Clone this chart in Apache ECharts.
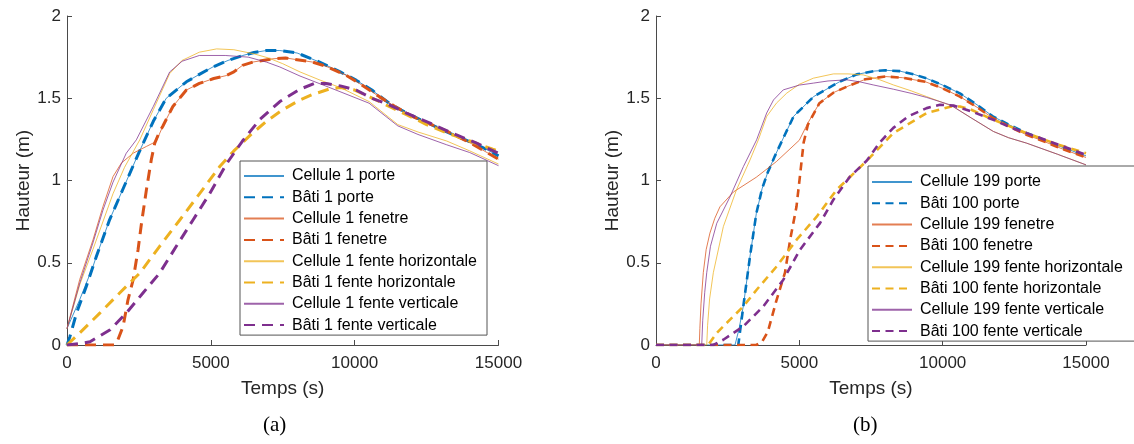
<!DOCTYPE html>
<html><head><meta charset="utf-8">
<script src="https://cdn.jsdelivr.net/npm/echarts@6/dist/echarts.min.js"></script>
<style>html,body{margin:0;padding:0;background:#fff}#c{width:1134px;height:444px}</style>
</head><body><div id="c"></div>
<script>
const xTicks = [0, 5000, 10000, 15000];
const yTicks = [0, 0.5, 1, 1.5, 2];
const namesA = ['Cellule 1 porte','Bâti 1 porte','Cellule 1 fenetre','Bâti 1 fenetre','Cellule 1 fente horizontale','Bâti 1 fente horizontale','Cellule 1 fente verticale','Bâti 1 fente verticale'];
const namesB = ['Cellule 199 porte','Bâti 100 porte','Cellule 199 fenetre','Bâti 100 fenetre','Cellule 199 fente horizontale','Bâti 100 fente horizontale','Cellule 199 fente verticale','Bâti 100 fente verticale'];
const panelLabels = ['(a)', '(b)'];

// ---- (a) ----
const cellPorteA = [[0,0.1],[440,0.275],[905,0.478],[1020,0.538],[1480,0.761],[1950,0.95],[2500,1.17],[3000,1.36],[3450,1.5],[4150,1.6],[4600,1.645],[5070,1.69],[5600,1.73],[6110,1.76],[6500,1.778],[6930,1.79],[7400,1.79],[8000,1.775],[8780,1.72],[9500,1.66],[10050,1.61],[10600,1.55],[11200,1.47],[11600,1.43],[12100,1.385],[12600,1.345],[13200,1.295],[13750,1.255],[14400,1.205],[15000,1.15]];
const batiPorteA = [[0,0],[100,0.05],[330,0.194],[670,0.356],[1020,0.538],[1480,0.761],[1950,0.95],[2500,1.17],[3000,1.36],[3450,1.5],[4150,1.6],[4600,1.645],[5070,1.69],[5600,1.73],[6110,1.76],[6500,1.778],[6930,1.79],[7400,1.79],[8000,1.775],[8780,1.72],[9500,1.66],[10050,1.61],[10600,1.55],[11200,1.47],[11600,1.43],[12100,1.385],[12600,1.345],[13200,1.295],[13750,1.255],[14400,1.205],[15000,1.15]];
const cellFenA = [[0,0.1],[440,0.397],[905,0.64],[1250,0.842],[1600,1.024],[1890,1.106],[2300,1.166],[2760,1.207],[3100,1.237],[3330,1.33],[3680,1.45],[4150,1.55],[4600,1.59],[5100,1.62],[5540,1.638],[5800,1.66],[6100,1.70],[6460,1.72],[7160,1.74],[7600,1.745],[8530,1.72],[9000,1.695],[9700,1.64],[10300,1.575],[10850,1.51],[11400,1.45],[12000,1.39],[12600,1.345],[13200,1.30],[14000,1.23],[15000,1.13]];
const batiFenA = [[0,0],[1650,0],[1770,0.032],[1950,0.113],[2120,0.275],[2300,0.397],[2470,0.579],[2590,0.741],[2760,0.943],[2930,1.126],[3050,1.227],[3200,1.29],[3330,1.33],[3680,1.45],[4150,1.55],[4600,1.59],[5100,1.62],[5540,1.638],[5800,1.66],[6100,1.70],[6460,1.72],[7160,1.74],[7600,1.745],[8530,1.72],[9000,1.695],[9700,1.64],[10300,1.575],[10850,1.51],[11400,1.45],[12000,1.39],[12600,1.345],[13200,1.30],[14000,1.23],[15000,1.13]];
const cellHorA = [[0,0.1],[450,0.37],[900,0.58],[1600,0.92],[2000,1.08],[2530,1.247],[3000,1.43],[3570,1.65],[4000,1.73],[4600,1.78],[5200,1.80],[5800,1.795],[6500,1.77],[7000,1.745],[7500,1.71],[8100,1.66],[8800,1.61],[9500,1.565],[10500,1.48],[11500,1.34],[12200,1.295],[13200,1.24],[14000,1.18],[15000,1.1]];
const batiHorA = [[0,0],[440,0.073],[1140,0.194],[1830,0.316],[2530,0.437],[3220,0.6],[3920,0.76],[4610,0.92],[5310,1.085],[5800,1.18],[6400,1.28],[6930,1.36],[7500,1.43],[8100,1.49],[8500,1.52],[9100,1.555],[9500,1.565],[10000,1.55],[10500,1.51],[11200,1.45],[11800,1.40],[12500,1.34],[13200,1.29],[14000,1.24],[14800,1.19],[15000,1.18]];
const cellVerA = [[0,0.1],[450,0.38],[900,0.62],[1250,0.82],[1600,0.99],[2060,1.166],[2410,1.247],[3000,1.45],[3570,1.66],[4000,1.725],[4600,1.76],[5500,1.76],[6300,1.75],[6930,1.72],[7400,1.69],[8100,1.635],[9100,1.567],[10500,1.47],[11500,1.332],[12200,1.28],[13200,1.217],[14000,1.17],[15000,1.09]];
const batiVerA = [[0,0],[500,0.01],[800,0.02],[1500,0.093],[2060,0.194],[2640,0.316],[3220,0.437],[3800,0.6],[4380,0.76],[4960,0.92],[5540,1.1],[6100,1.24],[6700,1.37],[7400,1.48],[8100,1.555],[8600,1.59],[9000,1.59],[9500,1.575],[10050,1.55],[10600,1.5],[11200,1.46],[11800,1.41],[12600,1.35],[13500,1.28],[14200,1.23],[15000,1.165]];

// ---- (b) ----
const cellPorteB = [[0,0],[2756,0],[2900,0.1],[3050,0.24],[3280,0.54],[3500,0.80],[3700,0.95],[3900,1.05],[4150,1.15],[4500,1.28],[4800,1.39],[5500,1.51],[6400,1.60],[7000,1.645],[7600,1.665],[8000,1.67],[8500,1.665],[9000,1.645],[9450,1.62],[10000,1.58],[10600,1.53],[11200,1.46],[11750,1.39],[12300,1.34],[12900,1.29],[13500,1.25],[14200,1.2],[15000,1.15]];
const batiPorteB = [[0,0],[2870,0],[3050,0.24],[3280,0.54],[3500,0.80],[3700,0.95],[3900,1.05],[4150,1.15],[4500,1.28],[4800,1.39],[5500,1.51],[6400,1.60],[7000,1.645],[7600,1.665],[8000,1.67],[8500,1.665],[9000,1.645],[9450,1.62],[10000,1.58],[10600,1.53],[11200,1.46],[11750,1.39],[12300,1.34],[12900,1.29],[13500,1.25],[14200,1.2],[15000,1.15]];
const cellFenB = [[0,0],[1510,0],[1530,0.1],[1570,0.25],[1650,0.44],[1750,0.58],[1880,0.68],[2050,0.77],[2230,0.84],[2700,0.93],[3500,1.02],[4200,1.115],[5000,1.245],[5300,1.35],[5700,1.47],[6200,1.535],[6650,1.57],[7300,1.615],[8000,1.632],[8600,1.625],[9400,1.60],[10000,1.56],[10600,1.51],[11200,1.445],[11750,1.38],[12300,1.33],[12900,1.28],[13500,1.24],[14200,1.19],[15000,1.14]];
const batiFenB = [[0,0],[3500,0],[3700,0.02],[3900,0.08],[4200,0.27],[4500,0.44],[4680,0.64],[4900,0.84],[5030,1.04],[5150,1.23],[5300,1.34],[5700,1.47],[6200,1.535],[6650,1.57],[7300,1.615],[8000,1.632],[8600,1.625],[9400,1.60],[10000,1.56],[10600,1.51],[11200,1.445],[11750,1.38],[12300,1.33],[12900,1.28],[13500,1.24],[14200,1.19],[15000,1.14]];
const cellHorB = [[0,0],[1770,0],[1800,0.12],[1870,0.28],[2000,0.44],[2350,0.72],[2800,0.94],[3280,1.125],[3570,1.247],[3860,1.389],[4200,1.47],[4560,1.531],[5000,1.585],[5490,1.622],[6190,1.648],[6700,1.648],[7230,1.642],[7810,1.612],[8280,1.581],[8900,1.545],[9440,1.51],[10370,1.45],[11000,1.38],[11770,1.298],[12300,1.26],[12930,1.227],[14000,1.16],[15000,1.095]];
const batiHorB = [[0,0],[1820,0],[2117,0.073],[2581,0.154],[3047,0.235],[3512,0.336],[4210,0.478],[4907,0.64],[5605,0.78],[6303,0.944],[7000,1.06],[7465,1.14],[8279,1.288],[9442,1.41],[10300,1.45],[10600,1.45],[11000,1.43],[11767,1.369],[12930,1.288],[14000,1.22],[15000,1.166]];
const cellVerB = [[0,0],[1595,0],[1630,0.15],[1700,0.32],[1770,0.44],[1900,0.6],[2120,0.74],[2580,0.90],[3050,1.085],[3510,1.247],[3860,1.41],[4100,1.49],[4440,1.551],[5000,1.58],[5490,1.592],[6000,1.605],[6650,1.612],[7100,1.6],[7580,1.581],[8280,1.555],[8900,1.53],[9440,1.505],[10260,1.46],[11000,1.38],[11770,1.298],[12300,1.26],[12930,1.227],[14000,1.16],[15000,1.095]];
const batiVerB = [[0,0],[2000,0],[2349,0.032],[3047,0.113],[3745,0.235],[4442,0.397],[5023,0.579],[5721,0.741],[6186,0.883],[6767,1.024],[7349,1.12],[7800,1.23],[8279,1.32],[8800,1.39],[9442,1.44],[9907,1.46],[10400,1.455],[11000,1.42],[11767,1.369],[12400,1.32],[12930,1.288],[14000,1.22],[15000,1.156]];

const colors = ['#0072BD', '#D95319', '#EDB120', '#7E2F8E'];
const dataA = [cellPorteA, batiPorteA, cellFenA, batiFenA, cellHorA, batiHorA, cellVerA, batiVerA];
const dataB = [cellPorteB, batiPorteB, cellFenB, batiFenB, cellHorB, batiHorB, cellVerB, batiVerB];

const FONT = 'Liberation Sans, Arial, Helvetica, sans-serif';
const AX = '#4a4a4a';

function mkSeries(names, datas, gi, dash, dashW) {
  return names.map((n, i) => {
    const dashed = i % 2 === 1;
    const c = colors[Math.floor(i / 2)];
    return {
      type: 'line', name: n, xAxisIndex: gi, yAxisIndex: gi,
      data: datas[i], symbol: 'none', showSymbol: false,
      smooth: false,
      color: c,
      lineStyle: dashed
        ? { width: dashW, type: dash, color: c, cap: 'butt', join: 'round' }
        : { width: 1, type: 'solid', color: c, opacity: 0.75, join: 'round' },
      emphasis: { disabled: true },
      animation: false
    };
  });
}

function xAxis(gi) {
  return {
    gridIndex: gi, type: 'value', min: xTicks[0], max: xTicks[xTicks.length - 1], interval: xTicks[1] - xTicks[0],
    name: 'Temps (s)', nameLocation: 'middle', nameGap: 34,
    nameTextStyle: { fontFamily: FONT, fontSize: 19, color: '#262626' },
    axisLine: { show: true, lineStyle: { color: AX, width: 1 } },
    axisTick: { show: true, inside: true, length: 5, lineStyle: { color: AX } },
    axisLabel: { fontFamily: FONT, fontSize: 17, color: '#262626', margin: 10, formatter: v => String(v) },
    splitLine: { show: false }
  };
}
function yAxis(gi) {
  return {
    gridIndex: gi, type: 'value', min: yTicks[0], max: yTicks[yTicks.length - 1], interval: yTicks[1] - yTicks[0],
    name: 'Hauteur (m)', nameLocation: 'middle', nameGap: 33, nameRotate: 90,
    nameTextStyle: { fontFamily: FONT, fontSize: 19, color: '#262626' },
    axisLine: { show: true, lineStyle: { color: AX, width: 1 } },
    axisTick: { show: true, inside: true, length: 5, lineStyle: { color: AX } },
    axisLabel: { fontFamily: FONT, fontSize: 17, color: '#262626', margin: 6, formatter: v => String(v) },
    splitLine: { show: false }
  };
}
function legend(names, left, top, pad) {
  return {
    data: names, orient: 'vertical', left: left, top: top,
    backgroundColor: '#fff', borderColor: '#555', borderWidth: 1, borderRadius: 0,
    padding: pad, itemWidth: 40, itemHeight: 14, itemGap: 5.3,
    itemStyle: { opacity: 0, borderWidth: 0 },
    textStyle: { fontFamily: FONT, fontSize: 16, color: '#000', padding: [0, 0, 0, 3] },
    selectedMode: false
  };
}

const chart = echarts.init(document.getElementById('c'), null, { renderer: 'canvas' });
chart.setOption({
  animation: false,
  backgroundColor: '#fff',
  grid: [
    { left: 67, top: 16, width: 431.5, height: 329 },
    { left: 656, top: 16, width: 430, height: 329 }
  ],
  xAxis: [xAxis(0), xAxis(1)],
  yAxis: [yAxis(0), yAxis(1)],
  legend: [legend(namesA, 240, 161, [7, 10, 2, 3]), legend(namesB, 868, 166, [8, 14, 2, 3])],
  series: [].concat(mkSeries(namesA, dataA, 0, [11, 7], 3), mkSeries(namesB, dataB, 1, [8, 5.5], 2.6)),
  graphic: [
    { type: 'text', left: 263, top: 415, style: { text: panelLabels[0], font: '21px "Liberation Serif", "DejaVu Serif", serif', fill: '#000' } },
    { type: 'text', left: 853, top: 415, style: { text: panelLabels[1], font: '21px "Liberation Serif", "DejaVu Serif", serif', fill: '#000' } }
  ]
});
</script></body></html>
